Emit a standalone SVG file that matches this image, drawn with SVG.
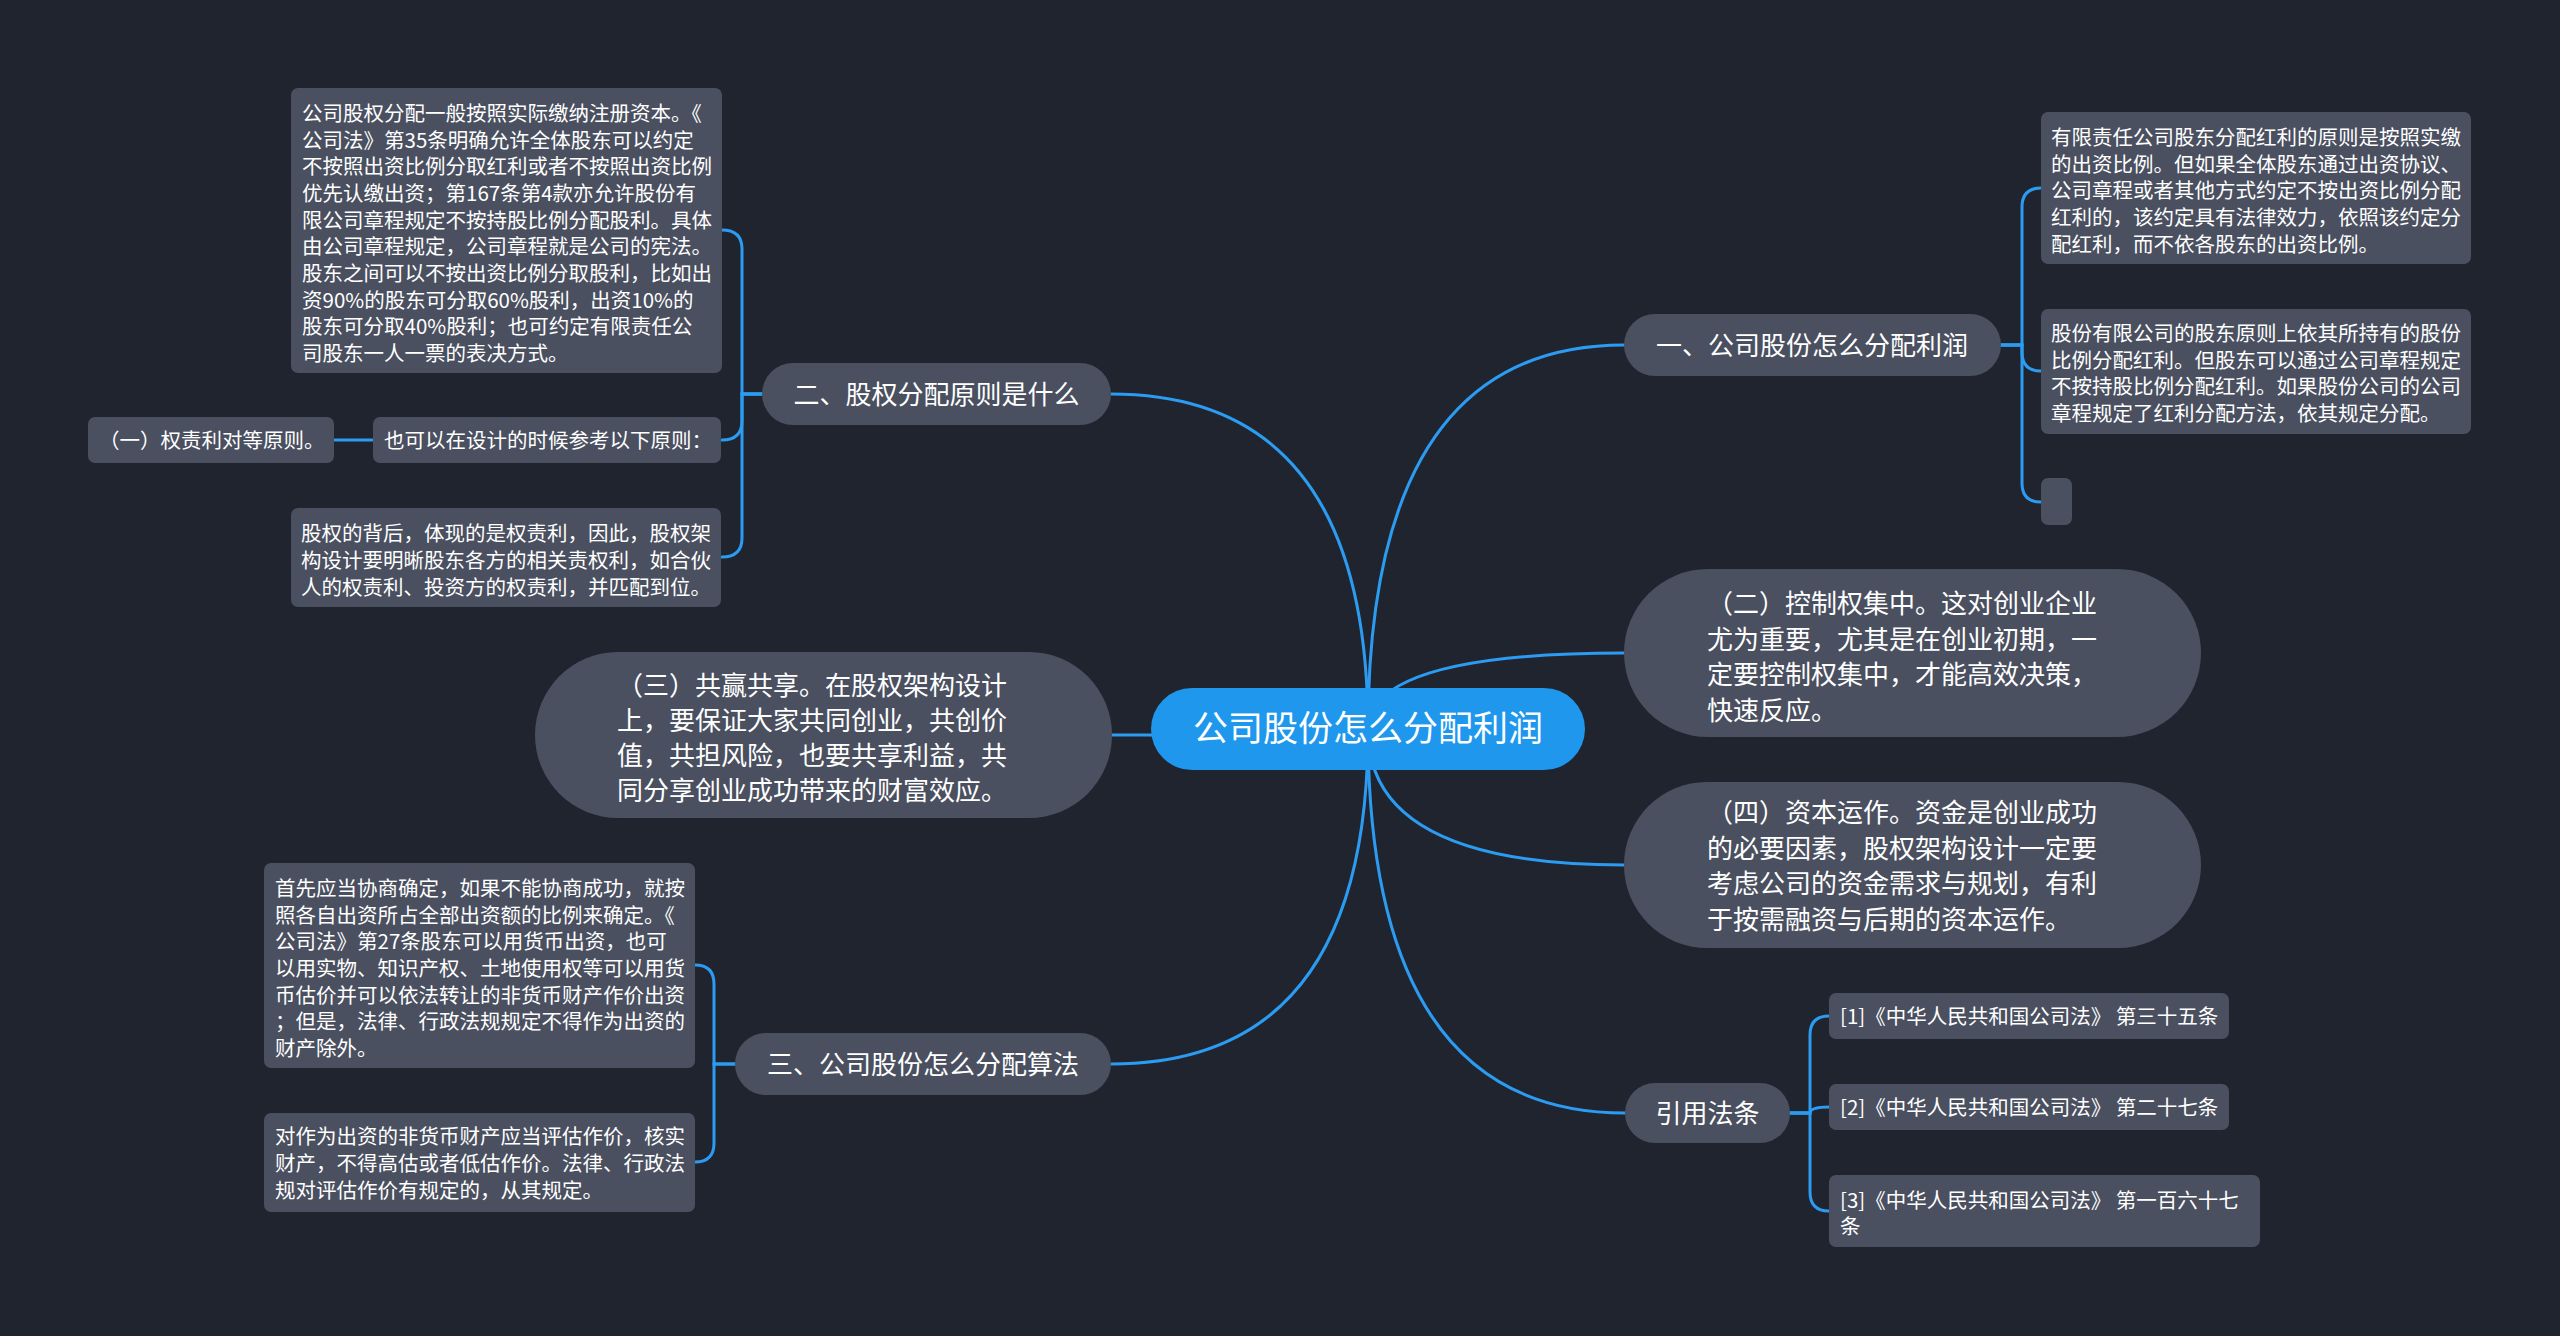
<svg xmlns="http://www.w3.org/2000/svg" width="2560" height="1336" viewBox="0 0 2560 1336">
<defs>
<style>
.bg{fill:#20242f}
.n{fill:#4a505f}
.c{fill:#1e97ec}
.ln{fill:none;stroke:#2b9cf2;stroke-width:3;stroke-linecap:round}
text{font-family:"Noto Sans CJK SC","Noto Sans",sans-serif;fill:#ffffff}
.t20{font-size:20.5px}
.t26{font-size:26px}
.t35{font-size:35px}
.mid{text-anchor:middle}
</style>
</defs>
<rect class="bg" x="0" y="0" width="2560" height="1336"/>

<g id="connectors">
<path class="ln" d="M1368,730 Q1368,345 1624,345"/>
<path class="ln" d="M1368,730 Q1368,653 1624,653"/>
<path class="ln" d="M1368,730 Q1368,865 1624,865"/>
<path class="ln" d="M1368,730 Q1368,1113 1625,1113"/>
<path class="ln" d="M1368,730 Q1368,394 1111,394"/>
<path class="ln" d="M1368,730 Q1368,735 1112,735"/>
<path class="ln" d="M1368,730 Q1368,1064 1111,1064"/>
<path class="ln" d="M2001,345 H2022 V207 Q2022,188 2041,188"/>
<path class="ln" d="M2001,345 H2022 V352 Q2022,371 2041,371"/>
<path class="ln" d="M2001,345 H2022 V483 Q2022,502 2041,502"/>
<path class="ln" d="M1790,1113 H1810 V1035 Q1810,1016 1829,1016"/>
<path class="ln" d="M1790,1113 H1810 Q1810,1107 1829,1107"/>
<path class="ln" d="M1790,1113 H1810 V1192 Q1810,1211 1829,1211"/>
<path class="ln" d="M762,394 H742 V249 Q742,230 722,230"/>
<path class="ln" d="M762,394 H742 V421 Q742,440 722,440"/>
<path class="ln" d="M762,394 H742 V538 Q742,557 722,557"/>
<path class="ln" d="M373,440 H334"/>
<path class="ln" d="M735,1064 H714 V984 Q714,965 695,965"/>
<path class="ln" d="M735,1064 H714 V1143 Q714,1162 695,1162"/>
</g>

<g id="center">
<rect class="c" x="1151" y="688" width="434" height="82" rx="41"/>
<text class="t35 mid" x="1368" y="741">公司股份怎么分配利润</text>
</g>

<g id="n1">
<rect class="n" x="1624" y="314" width="377" height="62" rx="31"/>
<text class="t26 mid" x="1812" y="355">一、公司股份怎么分配利润</text>
</g>
<g id="n1a">
<rect class="n" x="2041" y="112" width="430" height="152" rx="7"/>
<text class="t20" x="2051" y="145">有限责任公司股东分配红利的原则是按照实缴</text>
<text class="t20" x="2051" y="171.7">的出资比例。但如果全体股东通过出资协议、</text>
<text class="t20" x="2051" y="198.4">公司章程或者其他方式约定不按出资比例分配</text>
<text class="t20" x="2051" y="225.1">红利的，该约定具有法律效力，依照该约定分</text>
<text class="t20" x="2051" y="251.8">配红利，而不依各股东的出资比例。</text>
</g>
<g id="n1b">
<rect class="n" x="2041" y="309" width="430" height="125" rx="7"/>
<text class="t20" x="2051" y="341">股份有限公司的股东原则上依其所持有的股份</text>
<text class="t20" x="2051" y="367.7">比例分配红利。但股东可以通过公司章程规定</text>
<text class="t20" x="2051" y="394.4">不按持股比例分配红利。如果股份公司的公司</text>
<text class="t20" x="2051" y="421.1">章程规定了红利分配方法，依其规定分配。</text>
</g>
<g id="n1c">
<rect class="n" x="2041" y="478" width="31" height="47" rx="7"/>
</g>

<g id="n2">
<rect class="n" x="1624" y="569" width="577" height="168" rx="84"/>
<text class="t26" x="1707" y="613">（二）控制权集中。这对创业企业</text>
<text class="t26" x="1707" y="648.5">尤为重要，尤其是在创业初期，一</text>
<text class="t26" x="1707" y="684">定要控制权集中，才能高效决策，</text>
<text class="t26" x="1707" y="719.5">快速反应。</text>
</g>

<g id="n4">
<rect class="n" x="1624" y="782" width="577" height="166" rx="83"/>
<text class="t26" x="1707" y="822">（四）资本运作。资金是创业成功</text>
<text class="t26" x="1707" y="857.5">的必要因素，股权架构设计一定要</text>
<text class="t26" x="1707" y="893">考虑公司的资金需求与规划，有利</text>
<text class="t26" x="1707" y="928.5">于按需融资与后期的资本运作。</text>
</g>

<g id="n5">
<rect class="n" x="1625" y="1083" width="165" height="60" rx="30"/>
<text class="t26 mid" x="1707.5" y="1123">引用法条</text>
</g>
<g id="n5a">
<rect class="n" x="1829" y="993" width="400" height="46" rx="7"/>
<text class="t20" x="1840" y="1024">[1]《中华人民共和国公司法》 第三十五条</text>
</g>
<g id="n5b">
<rect class="n" x="1829" y="1084" width="400" height="46" rx="7"/>
<text class="t20" x="1840" y="1115">[2]《中华人民共和国公司法》 第二十七条</text>
</g>
<g id="n5c">
<rect class="n" x="1829" y="1175" width="431" height="72" rx="7"/>
<text class="t20" x="1840" y="1208">[3]《中华人民共和国公司法》 第一百六十七</text>
<text class="t20" x="1840" y="1234">条</text>
</g>

<g id="n6">
<rect class="n" x="762" y="363" width="349" height="62" rx="31"/>
<text class="t26 mid" x="936.5" y="404">二、股权分配原则是什么</text>
</g>
<g id="n6a">
<rect class="n" x="291" y="88" width="431" height="285" rx="7"/>
<text class="t20" x="302" y="121">公司股权分配一般按照实际缴纳注册资本。《</text>
<text class="t20" x="302" y="147.7">公司法》第35条明确允许全体股东可以约定</text>
<text class="t20" x="302" y="174.3">不按照出资比例分取红利或者不按照出资比例</text>
<text class="t20" x="302" y="201">优先认缴出资；第167条第4款亦允许股份有</text>
<text class="t20" x="302" y="227.7">限公司章程规定不按持股比例分配股利。具体</text>
<text class="t20" x="302" y="254.3">由公司章程规定，公司章程就是公司的宪法。</text>
<text class="t20" x="302" y="281">股东之间可以不按出资比例分取股利，比如出</text>
<text class="t20" x="302" y="307.7">资90%的股东可分取60%股利，出资10%的</text>
<text class="t20" x="302" y="334.3">股东可分取40%股利；也可约定有限责任公</text>
<text class="t20" x="302" y="361">司股东一人一票的表决方式。</text>
</g>
<g id="n6b">
<rect class="n" x="373" y="417" width="348" height="46" rx="7"/>
<text class="t20" x="384" y="448">也可以在设计的时候参考以下原则：</text>
</g>
<g id="n6b1">
<rect class="n" x="88" y="417" width="246" height="46" rx="7"/>
<text class="t20" x="99" y="448">（一）权责利对等原则。</text>
</g>
<g id="n6c">
<rect class="n" x="291" y="508" width="430" height="99" rx="7"/>
<text class="t20" x="301" y="541">股权的背后，体现的是权责利，因此，股权架</text>
<text class="t20" x="301" y="568">构设计要明晰股东各方的相关责权利，如合伙</text>
<text class="t20" x="301" y="595">人的权责利、投资方的权责利，并匹配到位。</text>
</g>

<g id="n3">
<rect class="n" x="535" y="652" width="577" height="166" rx="83"/>
<text class="t26" x="617" y="695">（三）共赢共享。在股权架构设计</text>
<text class="t26" x="617" y="730">上，要保证大家共同创业，共创价</text>
<text class="t26" x="617" y="765">值，共担风险，也要共享利益，共</text>
<text class="t26" x="617" y="800">同分享创业成功带来的财富效应。</text>
</g>

<g id="n7">
<rect class="n" x="735" y="1033" width="376" height="62" rx="31"/>
<text class="t26 mid" x="923" y="1074">三、公司股份怎么分配算法</text>
</g>
<g id="n7a">
<rect class="n" x="264" y="863" width="431" height="205" rx="7"/>
<text class="t20" x="275" y="896">首先应当协商确定，如果不能协商成功，就按</text>
<text class="t20" x="275" y="922.7">照各自出资所占全部出资额的比例来确定。《</text>
<text class="t20" x="275" y="949.3">公司法》第27条股东可以用货币出资，也可</text>
<text class="t20" x="275" y="976">以用实物、知识产权、土地使用权等可以用货</text>
<text class="t20" x="275" y="1002.7">币估价并可以依法转让的非货币财产作价出资</text>
<text class="t20" x="275" y="1029.3">；但是，法律、行政法规规定不得作为出资的</text>
<text class="t20" x="275" y="1056">财产除外。</text>
</g>
<g id="n7b">
<rect class="n" x="264" y="1113" width="431" height="99" rx="7"/>
<text class="t20" x="275" y="1144">对作为出资的非货币财产应当评估作价，核实</text>
<text class="t20" x="275" y="1171">财产，不得高估或者低估作价。法律、行政法</text>
<text class="t20" x="275" y="1198">规对评估作价有规定的，从其规定。</text>
</g>
</svg>
